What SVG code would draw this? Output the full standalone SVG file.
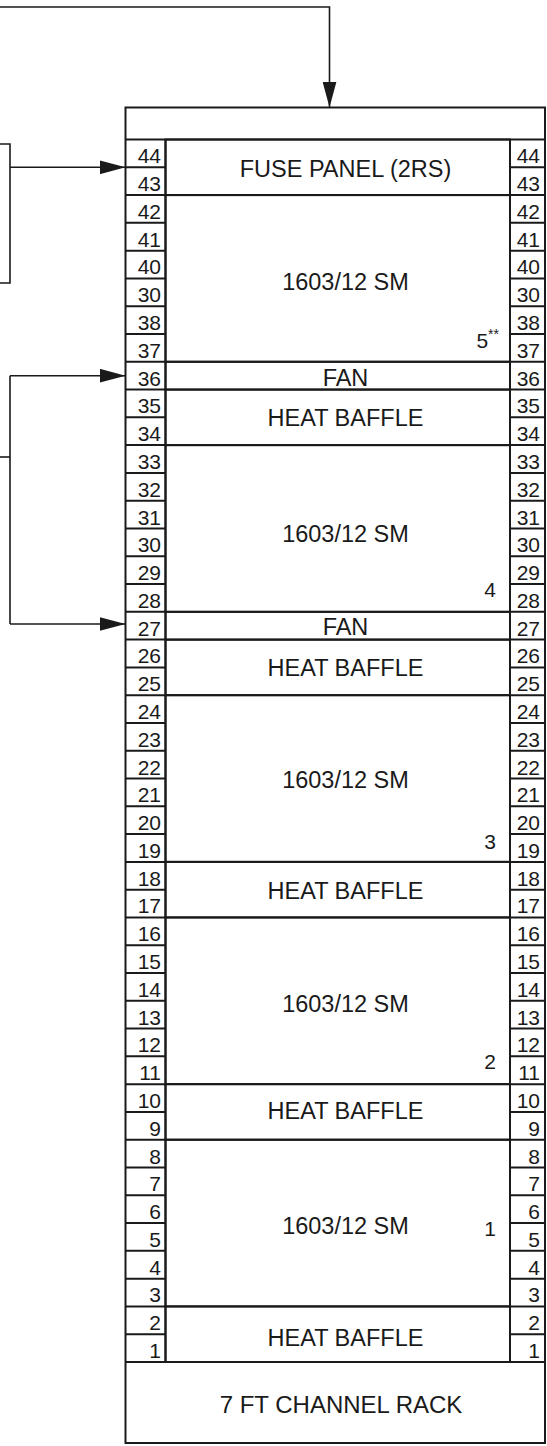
<svg xmlns="http://www.w3.org/2000/svg" width="547" height="1446" viewBox="0 0 547 1446">
<style>
  .frame{fill:none;stroke:#1a1a1a;stroke-width:2}
  .mod{fill:none;stroke:#1a1a1a;stroke-width:2}
  .slotline{fill:none;stroke:#1a1a1a;stroke-width:2}
  .conn{fill:none;stroke:#1a1a1a;stroke-width:1.6}
  text{font-family:"Liberation Sans",Arial,Helvetica,sans-serif;fill:#1a1a1a}
  .lbl{font-size:23.5px;text-anchor:middle}
  .num{font-size:21px;text-anchor:end}
  .idx{font-size:21px;text-anchor:end}
  .base{font-size:24px;text-anchor:middle}
</style>
<defs>
  <marker id="arr" markerUnits="userSpaceOnUse" markerWidth="26" markerHeight="14" refX="26" refY="7" orient="auto">
    <path d="M0,0 L26,7 L0,14 z" fill="#1a1a1a"/>
  </marker>
</defs>
<rect width="547" height="1446" fill="#ffffff"/>

<g id="connectors">
  <path class="conn" d="M0,7 H329.5 V107.5" marker-end="url(#arr)"/>
  <path class="conn" d="M0,144 H10 V283 H0"/>
  <path class="conn" d="M10,167.3 H125.5" marker-end="url(#arr)"/>
  <path class="conn" d="M0,457 H10"/>
  <path class="conn" d="M10,375.7 V624"/>
  <path class="conn" d="M10,375.7 H125.5" marker-end="url(#arr)"/>
  <path class="conn" d="M10,624 H125.5" marker-end="url(#arr)"/>
</g>

<g id="rack">
  <rect class="frame" x="125.5" y="107.5" width="419.5" height="1335.5"/>
  <line class="frame" x1="125.5" y1="139.5" x2="545" y2="139.5"/>
  <line class="frame" x1="125.5" y1="1362" x2="545" y2="1362"/>
  <line class="frame" x1="165.5" y1="139.5" x2="165.5" y2="1362"/>
  <line class="frame" x1="510" y1="139.5" x2="510" y2="1362"/>
</g>

<g id="base">
  <text class="base" x="341" y="1413">7 FT CHANNEL RACK</text>
</g>

<g id="slots-left">
  <path class="slotline" d="M125.5,167.28H165.5M125.5,195.07H165.5M125.5,222.85H165.5M125.5,250.64H165.5M125.5,278.42H165.5M125.5,306.2H165.5M125.5,333.99H165.5M125.5,361.77H165.5M125.5,389.56H165.5M125.5,417.34H165.5M125.5,445.12H165.5M125.5,472.91H165.5M125.5,500.69H165.5M125.5,528.48H165.5M125.5,556.26H165.5M125.5,584.04H165.5M125.5,611.83H165.5M125.5,639.61H165.5M125.5,667.4H165.5M125.5,695.18H165.5M125.5,722.96H165.5M125.5,750.75H165.5M125.5,778.53H165.5M125.5,806.32H165.5M125.5,834.1H165.5M125.5,861.88H165.5M125.5,889.67H165.5M125.5,917.45H165.5M125.5,945.24H165.5M125.5,973.02H165.5M125.5,1000.8H165.5M125.5,1028.59H165.5M125.5,1056.37H165.5M125.5,1084.16H165.5M125.5,1111.94H165.5M125.5,1139.72H165.5M125.5,1167.51H165.5M125.5,1195.29H165.5M125.5,1223.08H165.5M125.5,1250.86H165.5M125.5,1278.64H165.5M125.5,1306.43H165.5M125.5,1334.21H165.5"/>
  <text class="num" x="161" y="163.3">44</text>
  <text class="num" x="161" y="191.1">43</text>
  <text class="num" x="161" y="218.9">42</text>
  <text class="num" x="161" y="246.6">41</text>
  <text class="num" x="161" y="274.4">40</text>
  <text class="num" x="161" y="302.2">30</text>
  <text class="num" x="161" y="330">38</text>
  <text class="num" x="161" y="357.8">37</text>
  <text class="num" x="161" y="385.6">36</text>
  <text class="num" x="161" y="413.3">35</text>
  <text class="num" x="161" y="441.1">34</text>
  <text class="num" x="161" y="468.9">33</text>
  <text class="num" x="161" y="496.7">32</text>
  <text class="num" x="161" y="524.5">31</text>
  <text class="num" x="161" y="552.3">30</text>
  <text class="num" x="161" y="580">29</text>
  <text class="num" x="161" y="607.8">28</text>
  <text class="num" x="161" y="635.6">27</text>
  <text class="num" x="161" y="663.4">26</text>
  <text class="num" x="161" y="691.2">25</text>
  <text class="num" x="161" y="719">24</text>
  <text class="num" x="161" y="746.7">23</text>
  <text class="num" x="161" y="774.5">22</text>
  <text class="num" x="161" y="802.3">21</text>
  <text class="num" x="161" y="830.1">20</text>
  <text class="num" x="161" y="857.9">19</text>
  <text class="num" x="161" y="885.7">18</text>
  <text class="num" x="161" y="913.4">17</text>
  <text class="num" x="161" y="941.2">16</text>
  <text class="num" x="161" y="969">15</text>
  <text class="num" x="161" y="996.8">14</text>
  <text class="num" x="161" y="1024.6">13</text>
  <text class="num" x="161" y="1052.4">12</text>
  <text class="num" x="161" y="1080.2">11</text>
  <text class="num" x="161" y="1107.9">10</text>
  <text class="num" x="161" y="1135.7">9</text>
  <text class="num" x="161" y="1163.5">8</text>
  <text class="num" x="161" y="1191.3">7</text>
  <text class="num" x="161" y="1219.1">6</text>
  <text class="num" x="161" y="1246.9">5</text>
  <text class="num" x="161" y="1274.6">4</text>
  <text class="num" x="161" y="1302.4">3</text>
  <text class="num" x="161" y="1330.2">2</text>
  <text class="num" x="161" y="1358">1</text>
</g>

<g id="slots-right">
  <path class="slotline" d="M510,167.28H545M510,195.07H545M510,222.85H545M510,250.64H545M510,278.42H545M510,306.2H545M510,333.99H545M510,361.77H545M510,389.56H545M510,417.34H545M510,445.12H545M510,472.91H545M510,500.69H545M510,528.48H545M510,556.26H545M510,584.04H545M510,611.83H545M510,639.61H545M510,667.4H545M510,695.18H545M510,722.96H545M510,750.75H545M510,778.53H545M510,806.32H545M510,834.1H545M510,861.88H545M510,889.67H545M510,917.45H545M510,945.24H545M510,973.02H545M510,1000.8H545M510,1028.59H545M510,1056.37H545M510,1084.16H545M510,1111.94H545M510,1139.72H545M510,1167.51H545M510,1195.29H545M510,1223.08H545M510,1250.86H545M510,1278.64H545M510,1306.43H545M510,1334.21H545"/>
  <text class="num" x="540" y="163.3">44</text>
  <text class="num" x="540" y="191.1">43</text>
  <text class="num" x="540" y="218.9">42</text>
  <text class="num" x="540" y="246.6">41</text>
  <text class="num" x="540" y="274.4">40</text>
  <text class="num" x="540" y="302.2">30</text>
  <text class="num" x="540" y="330">38</text>
  <text class="num" x="540" y="357.8">37</text>
  <text class="num" x="540" y="385.6">36</text>
  <text class="num" x="540" y="413.3">35</text>
  <text class="num" x="540" y="441.1">34</text>
  <text class="num" x="540" y="468.9">33</text>
  <text class="num" x="540" y="496.7">32</text>
  <text class="num" x="540" y="524.5">31</text>
  <text class="num" x="540" y="552.3">30</text>
  <text class="num" x="540" y="580">29</text>
  <text class="num" x="540" y="607.8">28</text>
  <text class="num" x="540" y="635.6">27</text>
  <text class="num" x="540" y="663.4">26</text>
  <text class="num" x="540" y="691.2">25</text>
  <text class="num" x="540" y="719">24</text>
  <text class="num" x="540" y="746.7">23</text>
  <text class="num" x="540" y="774.5">22</text>
  <text class="num" x="540" y="802.3">21</text>
  <text class="num" x="540" y="830.1">20</text>
  <text class="num" x="540" y="857.9">19</text>
  <text class="num" x="540" y="885.7">18</text>
  <text class="num" x="540" y="913.4">17</text>
  <text class="num" x="540" y="941.2">16</text>
  <text class="num" x="540" y="969">15</text>
  <text class="num" x="540" y="996.8">14</text>
  <text class="num" x="540" y="1024.6">13</text>
  <text class="num" x="540" y="1052.4">12</text>
  <text class="num" x="540" y="1080.2">11</text>
  <text class="num" x="540" y="1107.9">10</text>
  <text class="num" x="540" y="1135.7">9</text>
  <text class="num" x="540" y="1163.5">8</text>
  <text class="num" x="540" y="1191.3">7</text>
  <text class="num" x="540" y="1219.1">6</text>
  <text class="num" x="540" y="1246.9">5</text>
  <text class="num" x="540" y="1274.6">4</text>
  <text class="num" x="540" y="1302.4">3</text>
  <text class="num" x="540" y="1330.2">2</text>
  <text class="num" x="540" y="1358">1</text>
</g>

<g id="fuse-panel">
  <rect class="mod" x="165.5" y="139.5" width="344.5" height="55.57"/>
  <text class="lbl" x="345.5" y="176.5">FUSE PANEL (2RS)</text>
</g>
<g id="sm-5">
  <rect class="mod" x="165.5" y="195.07" width="344.5" height="166.7"/>
  <text class="lbl" x="345.5" y="289.5">1603/12 SM</text>
  <text class="idx" x="499" y="348">5<tspan font-size="14" dy="-9">**</tspan></text>
</g>
<g id="fan-36">
  <rect class="mod" x="165.5" y="361.77" width="344.5" height="27.79"/>
  <text class="lbl" x="345.5" y="385.8">FAN</text>
</g>
<g id="baffle-35">
  <rect class="mod" x="165.5" y="389.56" width="344.5" height="55.56"/>
  <text class="lbl" x="345.5" y="426">HEAT BAFFLE</text>
</g>
<g id="sm-4">
  <rect class="mod" x="165.5" y="445.12" width="344.5" height="166.71"/>
  <text class="lbl" x="345.5" y="542">1603/12 SM</text>
  <text class="idx" x="496" y="597.3">4</text>
</g>
<g id="fan-27">
  <rect class="mod" x="165.5" y="611.83" width="344.5" height="27.78"/>
  <text class="lbl" x="345.5" y="635">FAN</text>
</g>
<g id="baffle-26">
  <rect class="mod" x="165.5" y="639.61" width="344.5" height="55.57"/>
  <text class="lbl" x="345.5" y="676">HEAT BAFFLE</text>
</g>
<g id="sm-3">
  <rect class="mod" x="165.5" y="695.18" width="344.5" height="166.7"/>
  <text class="lbl" x="345.5" y="788.3">1603/12 SM</text>
  <text class="idx" x="496" y="849">3</text>
</g>
<g id="baffle-18">
  <rect class="mod" x="165.5" y="861.88" width="344.5" height="55.57"/>
  <text class="lbl" x="345.5" y="899.3">HEAT BAFFLE</text>
</g>
<g id="sm-2">
  <rect class="mod" x="165.5" y="917.45" width="344.5" height="166.71"/>
  <text class="lbl" x="345.5" y="1011.7">1603/12 SM</text>
  <text class="idx" x="496" y="1069">2</text>
</g>
<g id="baffle-10">
  <rect class="mod" x="165.5" y="1084.16" width="344.5" height="55.56"/>
  <text class="lbl" x="345.5" y="1119.3">HEAT BAFFLE</text>
</g>
<g id="sm-1">
  <rect class="mod" x="165.5" y="1139.72" width="344.5" height="166.71"/>
  <text class="lbl" x="345.5" y="1234">1603/12 SM</text>
  <text class="idx" x="496" y="1236">1</text>
</g>
<g id="baffle-2">
  <rect class="mod" x="165.5" y="1306.43" width="344.5" height="55.57"/>
  <text class="lbl" x="345.5" y="1346">HEAT BAFFLE</text>
</g>
</svg>
